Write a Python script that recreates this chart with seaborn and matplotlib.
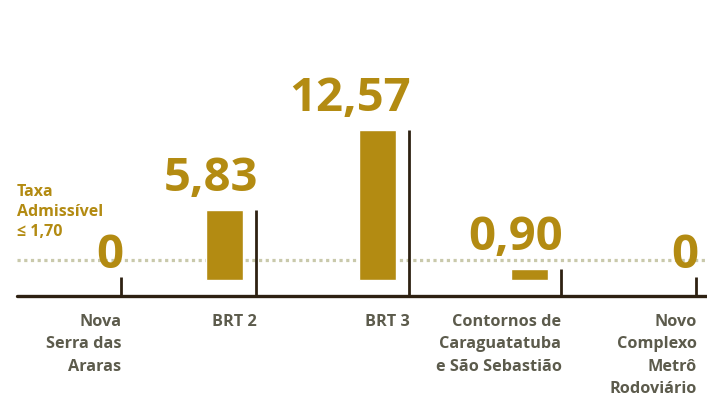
import matplotlib
matplotlib.use("Agg")
import matplotlib.pyplot as plt
import seaborn as sns
import pandas as pd

# Projects and their measured rate
projetos = [
    "Nova\nSerra das\nAraras",
    "BRT 2",
    "BRT 3",
    "Contornos de\nCaraguatatuba\ne São Sebastião",
    "Novo\nComplexo\nMetrô\nRodoviário",
]
taxas = [0.0, 5.83, 12.57, 0.90, 0.0]
limite = 1.70
limite_rotulo = "Taxa\nAdmissível\n≤ 1,70"

# horizontal layout: pixel x of each project's marker line
slots_px = [121, 256, 409, 561, 696]

GOLD = "#b38b12"
GREY_TXT = "#5c5b4c"
AXIS = "#2e2112"
DOTS = "#c9c9ab"

sns.set_theme(style="white")
plt.rcParams["font.family"] = ["Open Sans", "DejaVu Sans"]

W, H = 707, 398
BAR_W = 37          # bar width, px
BAR_GAP = 32        # bar centre to marker line, px
PX_Y = 11.95        # pixels per unit
Y0 = H - 280.0      # pixel height (from bottom) of the zero line

df = pd.DataFrame({
    "projeto": projetos,
    "taxa": taxas,
    "pos": [s - BAR_GAP for s in slots_px],
})

fig = plt.figure(figsize=(W / 100, H / 100), dpi=100)
ax = fig.add_axes([0, 0, 1, 1])

def y_of(px_from_top):
    return (H - px_from_top - Y0) / PX_Y

# threshold line
ax.axhline(limite, color=DOTS, lw=2.3, ls=(0, (1, 1.1)), zorder=1,
           xmin=17 / W, xmax=1.0)

min_step = min(b - a for a, b in zip(df["pos"][:-1], df["pos"][1:]))
sns.barplot(data=df, x="pos", y="taxa", color=GOLD, saturation=1,
            native_scale=True, orient="x", width=BAR_W / min_step,
            ax=ax, zorder=2)

ax.set_xlim(0, W)
ax.set_ylim(-Y0 / PX_Y, (H - Y0) / PX_Y)

axis_y = y_of(296)
ax.axhline(axis_y, xmin=17 / W, xmax=1.0, color=AXIS, lw=2.4, zorder=3)

for nome, v, tx in zip(projetos, taxas, slots_px):
    top = max(v, 0.25)
    ax.plot([tx, tx], [axis_y, top], color=AXIS, lw=2.0, zorder=3,
            solid_capstyle="butt")
    rot = "0" if v == 0 else f"{v:.2f}".replace(".", ",")
    off = 12 if v == 0 else 19
    ax.annotate(rot, (tx, v), xytext=(1.5, off * 0.72), textcoords="offset points",
                ha="right", va="baseline", fontsize=34, fontweight="bold",
                color=GOLD, zorder=4)
    ax.text(tx + 0.5, y_of(313.5), nome, ha="right", va="top",
            multialignment="right", fontsize=11.7, fontweight="bold",
            color=GREY_TXT, linespacing=1.55, zorder=4)

ax.text(17, y_of(184), limite_rotulo,
        ha="left", va="top", fontsize=11.5, fontweight="bold", color=GOLD,
        linespacing=1.33, zorder=4)

ax.set_axis_off()
fig.savefig("out.png", dpi=100)
